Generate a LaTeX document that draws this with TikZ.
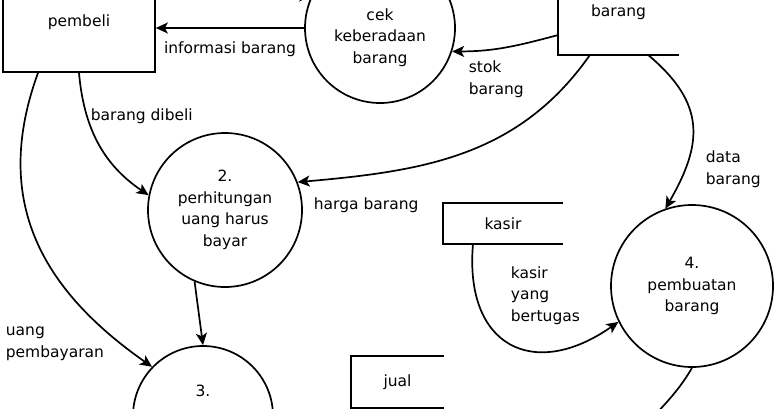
\documentclass[tikz,border=0pt]{standalone}
\usepackage{fontspec}
\setmainfont{DejaVu Sans}
\usetikzlibrary{arrows.meta}

\begin{document}
\begin{tikzpicture}[x=1pt, y=1pt, line width=1.7pt,
  every node/.style={font=\fontsize{15.5}{21.7}\selectfont},
  entity/.style={draw, minimum width=152pt, minimum height=100pt, inner sep=0pt},
  store/.style={minimum width=118pt, inner sep=0pt},
  process/.style={circle, draw, align=center, inner sep=0pt},
  flow/.style={-{Stealth[length=12pt, width=11pt, inset=3pt]}},
  lbl/.style={align=left, anchor=west, inner sep=0pt}]
  \useasboundingbox (0,0) rectangle (776,-408);

  % Entities and stores
  \node[entity] (pembeli) at (79,-22) {pembeli};
  \node[store, minimum height=84pt, minimum width=119pt] (barang) at (618.5,-12) {barang};
  \node[store, minimum height=39pt] (kasir) at (503,-223.5) {kasir};
  \node[store, minimum height=50pt, minimum width=91pt] (jual) at (397.5,-382) {jual};
  \draw (barang.north east) -- (barang.north west) -- (barang.south west) -- (barang.south east);
  \draw (kasir.north east) -- (kasir.north west) -- (kasir.south west) -- (kasir.south east);
  \draw (jual.north east) -- (jual.north west) -- (jual.south west) -- (jual.south east);

  % Processes
  \node[process, minimum size=150pt] (cek) at (380,-28) {\rule{0pt}{9pt}\\cek\\keberadaan\\barang};
  \node[process, minimum size=154pt] (hitung) at (225,-210) {2.\\perhitungan\\uang harus\\bayar};
  \node[process, minimum size=140pt] (bayar) at (203,-416) {3.\\\strut\\\strut};
  \node[process, minimum size=162pt] (buat) at (692,-286) {4.\\pembuatan\\barang};

  % Data flows
  \draw[flow] (pembeli.east |- cek.155) -- (cek.155);
  \draw[flow] (cek.west) -- node[below=10pt] {informasi barang} (pembeli.east |- cek.west);
  \draw[flow] ([yshift=-23pt]barang.west) to[out=195, in=0] (cek.-18);
  \draw[flow] ([xshift=-28.5pt]barang.south) to[out=235, in=5] (hitung.21);
  \draw[flow] ([xshift=29.5pt]barang.south) to[out=-40, in=60, looseness=1.25] (buat.109);
  \draw[flow] (pembeli.south) to[out=-85, in=146] (hitung.169);
  \draw[flow] ([xshift=-41pt]pembeli.south) to[out=250, in=145, looseness=1.1] (bayar.136);
  \draw[flow] (hitung.247) -- (bayar.north);
  \draw[flow] ([xshift=-30pt]kasir.south) to[out=265, in=215, looseness=1.6] (buat.206);
  \coordinate (keluar) at (620,-470);
  \draw[flow] (buat.270) to[out=240, in=70] (keluar);

  % Labels
  \node[lbl] at (468,-79.5) {stok\\barang};
  \node[lbl] at (90,-116) {barang dibeli};
  \node[lbl] at (313,-205) {harga barang};
  \node[lbl] at (705,-169) {data\\barang};
  \node[lbl] at (510,-295.5) {kasir\\yang\\bertugas};
  \node[lbl] at (5,-344) {uang\\pembayaran};
\end{tikzpicture}
\end{document}
